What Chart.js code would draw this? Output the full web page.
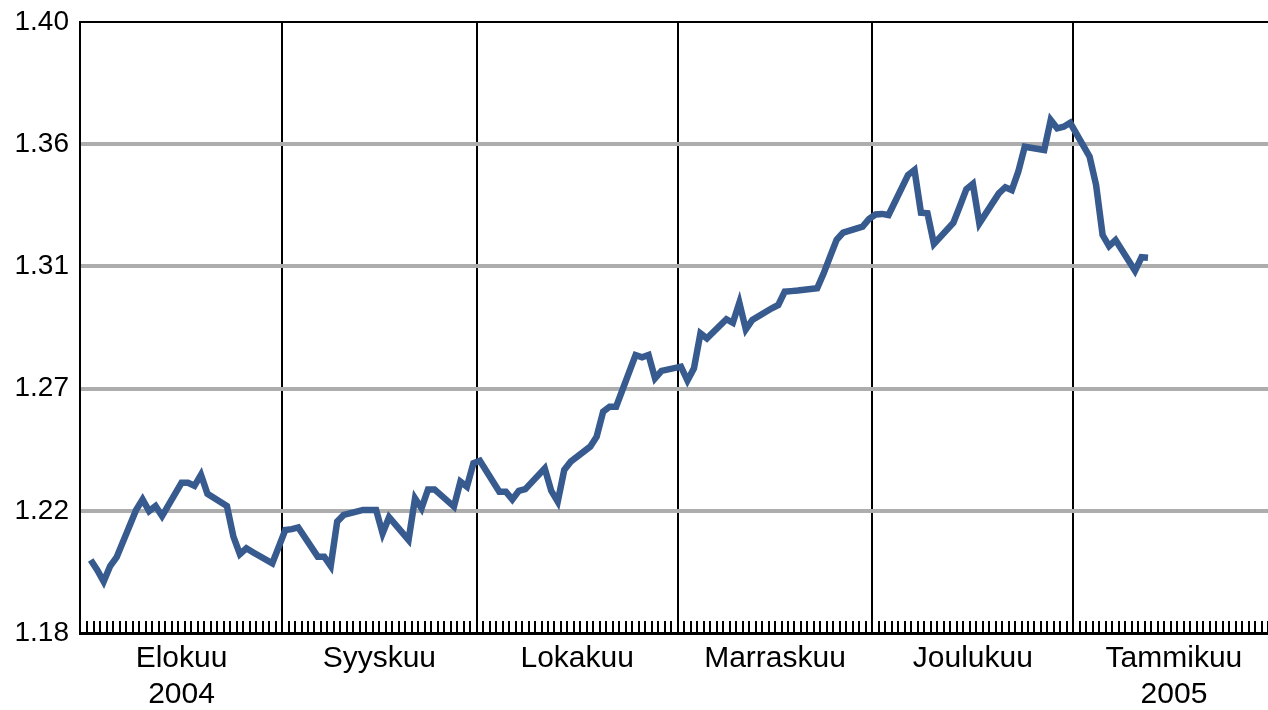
<!DOCTYPE html>
<html>
<head>
<meta charset="utf-8">
<script src="https://cdn.jsdelivr.net/npm/chart.js@4/dist/chart.umd.min.js"></script>
<style>
  html, body { margin: 0; padding: 0; background: #fff; }
  #wrap { width: 1268px; height: 710px; }
</style>
</head>
<body>
<div id="wrap"><canvas id="myChart" width="1268" height="710"></canvas></div>
<script>
// EUR/USD, päivittäiset havainnot elo 2004 - tammi 2005 (luettu kuvasta)
const dates = [
  '2004-08-02','2004-08-03','2004-08-04','2004-08-05','2004-08-06',
  '2004-08-09','2004-08-10','2004-08-11','2004-08-12','2004-08-13',
  '2004-08-16','2004-08-17','2004-08-18','2004-08-19','2004-08-20',
  '2004-08-23','2004-08-24','2004-08-25','2004-08-26','2004-08-27',
  '2004-08-30','2004-08-31','2004-09-01','2004-09-02','2004-09-03',
  '2004-09-06','2004-09-07','2004-09-08','2004-09-09','2004-09-10',
  '2004-09-13','2004-09-14','2004-09-15','2004-09-16','2004-09-17',
  '2004-09-20','2004-09-21','2004-09-22','2004-09-23','2004-09-24',
  '2004-09-27','2004-09-28','2004-09-29','2004-09-30','2004-10-01',
  '2004-10-04','2004-10-05','2004-10-06','2004-10-07','2004-10-08',
  '2004-10-11','2004-10-12','2004-10-13','2004-10-14','2004-10-15',
  '2004-10-18','2004-10-19','2004-10-20','2004-10-21','2004-10-22',
  '2004-10-25','2004-10-26','2004-10-27','2004-10-28','2004-10-29',
  '2004-11-01','2004-11-02','2004-11-03','2004-11-04','2004-11-05',
  '2004-11-08','2004-11-09','2004-11-10','2004-11-11','2004-11-12',
  '2004-11-15','2004-11-16','2004-11-17','2004-11-18','2004-11-19',
  '2004-11-22','2004-11-23','2004-11-24','2004-11-25','2004-11-26',
  '2004-11-29','2004-11-30','2004-12-01','2004-12-02','2004-12-03',
  '2004-12-06','2004-12-07','2004-12-08','2004-12-09','2004-12-10',
  '2004-12-13','2004-12-14','2004-12-15','2004-12-16','2004-12-17',
  '2004-12-20','2004-12-21','2004-12-22','2004-12-23','2004-12-24',
  '2004-12-27','2004-12-28','2004-12-29','2004-12-30','2004-12-31',
  '2005-01-03','2005-01-04','2005-01-05','2005-01-06','2005-01-07',
  '2005-01-10','2005-01-11','2005-01-12'
];
const rates = [
  1.2063, 1.2027, 1.1985, 1.2041, 1.2073,
  1.2243, 1.2281, 1.2239, 1.2257, 1.2221,
  1.2341, 1.2341, 1.2330, 1.2370, 1.2301,
  1.2257, 1.2147, 1.2084, 1.2105, 1.2091,
  1.2051, 1.2111, 1.2171, 1.2174, 1.2180,
  1.2075, 1.2075, 1.2041, 1.2201, 1.2225,
  1.2243, 1.2243, 1.2243, 1.2159, 1.2217,
  1.2135, 1.2285, 1.2249, 1.2317, 1.2317,
  1.2255, 1.2345, 1.2327, 1.2411, 1.2420,
  1.2309, 1.2309, 1.2281, 1.2312, 1.2318,
  1.2393, 1.2312, 1.2273, 1.2387, 1.2417,
  1.2471, 1.2507, 1.2597, 1.2615, 1.2615,
  1.2801, 1.2793, 1.2801, 1.2717, 1.2744,
  1.2759, 1.2709, 1.2753, 1.2879, 1.2861,
  1.2930, 1.2917, 1.2989, 1.2893, 1.2927,
  1.2969, 1.2981, 1.3029, 1.3031, 1.3033,
  1.3041, 1.3095, 1.3156, 1.3216, 1.3242,
  1.3263, 1.3291, 1.3307, 1.3309, 1.3305,
  1.3449, 1.3467, 1.3313, 1.3311, 1.3201,
  1.3277, 1.3337, 1.3398, 1.3417, 1.3275,
  1.3383, 1.3405, 1.3395, 1.3461, 1.3551,
  1.3539, 1.3647, 1.3617, 1.3623, 1.3637,
  1.3515, 1.3413, 1.3233, 1.3193, 1.3215,
  1.3104, 1.3153, 1.3151
];
const monthStarts = ['2004-08-01', '2004-09-01', '2004-10-01', '2004-11-01', '2004-12-01', '2005-01-01', '2005-02-01'];
const monthLabels = [['Elokuu', '2004'], 'Syyskuu', 'Lokakuu', 'Marraskuu', 'Joulukuu', ['Tammikuu', '2005']];
const yTicks = [1.18, 1.224, 1.268, 1.312, 1.356, 1.40];

// päivä-indeksi (0 = 1.8.2004)
const t0 = Date.parse('2004-08-01');
const dayOf = s => Math.round((Date.parse(s) - t0) / 86400000);

const starts = monthStarts.map(dayOf);
const mids = monthLabels.map((l, i) => (starts[i] + starts[i + 1]) / 2);
const lines = starts.slice(1, -1);

const points = dates.map((d, i) => ({ x: dayOf(d) + 0.5, y: rates[i] }));

// pienet päivätikit x-akselin sisäpuolelle
const dayTicks = {
    id: 'dayTicks',
    afterDatasetsDraw(chart) {
        const x = chart.scales.x;
        const area = chart.chartArea;
        const c = chart.ctx;
        c.save();
        c.strokeStyle = '#000';
        c.lineWidth = 2;
        c.beginPath();
        for (let d = 0; d <= starts[starts.length - 1]; d++) {
            const px = Math.round(x.getPixelForValue(d));
            if (px < area.left + 2 || px > area.right) continue;
            c.moveTo(px, area.bottom - 12);
            c.lineTo(px, area.bottom);
        }
        c.stroke();
        c.restore();
    }
};

const ctx = document.getElementById('myChart').getContext('2d');
const myChart = new Chart(ctx, {
    type: 'line',
    data: {
        datasets: [{
            label: 'EUR/USD',
            data: points,
            borderColor: '#375a8f',
            borderWidth: 6.5,
            pointRadius: 0,
            tension: 0,
            fill: false
        }]
    },
    options: {
        responsive: false,
        animation: false,
        devicePixelRatio: 1,
        layout: { autoPadding: false, padding: { top: 22, left: 0, right: 0, bottom: 0 } },
        plugins: { legend: { display: false }, tooltip: { enabled: false } },
        scales: {
            x: {
                type: 'linear',
                min: -0.15,
                max: 183,
                afterBuildTicks: s => {
                    s.ticks = lines.concat(mids).sort((a, b) => a - b).map(v => ({ value: v }));
                },
                afterFit: s => { s.height = 77; },
                ticks: {
                    autoSkip: false,
                    maxRotation: 0,
                    padding: 7,
                    color: '#000',
                    font: { family: 'Liberation Sans, Arial, sans-serif', size: 30, lineHeight: 1.22 },
                    callback: v => {
                        const i = mids.indexOf(v);
                        return i >= 0 ? monthLabels[i] : '';
                    }
                },
                grid: {
                    drawTicks: false,
                    color: c => lines.includes(c.tick && c.tick.value) ? '#000' : 'rgba(0,0,0,0)',
                    lineWidth: 2
                },
                border: { display: true, color: '#000', width: 3 }
            },
            y: {
                min: 1.18,
                max: 1.40,
                afterBuildTicks: s => { s.ticks = yTicks.map(v => ({ value: v })); },
                afterFit: s => {
                    s.width = 80;
                    s.paddingTop = 0;
                    s.paddingBottom = 0;
                },
                ticks: {
                    padding: 11,
                    color: '#000',
                    font: { family: 'Liberation Sans, Arial, sans-serif', size: 28 },
                    callback: v => v.toFixed(2)
                },
                grid: {
                    drawTicks: false,
                    color: c => c.index === 0 ? 'rgba(0,0,0,0)' : (c.index === yTicks.length - 1 ? '#000' : '#adadad'),
                    lineWidth: c => c.index === yTicks.length - 1 ? 2 : 4
                },
                border: { display: true, color: '#000', width: 2 }
            }
        }
    },
    plugins: [dayTicks]
});
</script>
</body>
</html>
